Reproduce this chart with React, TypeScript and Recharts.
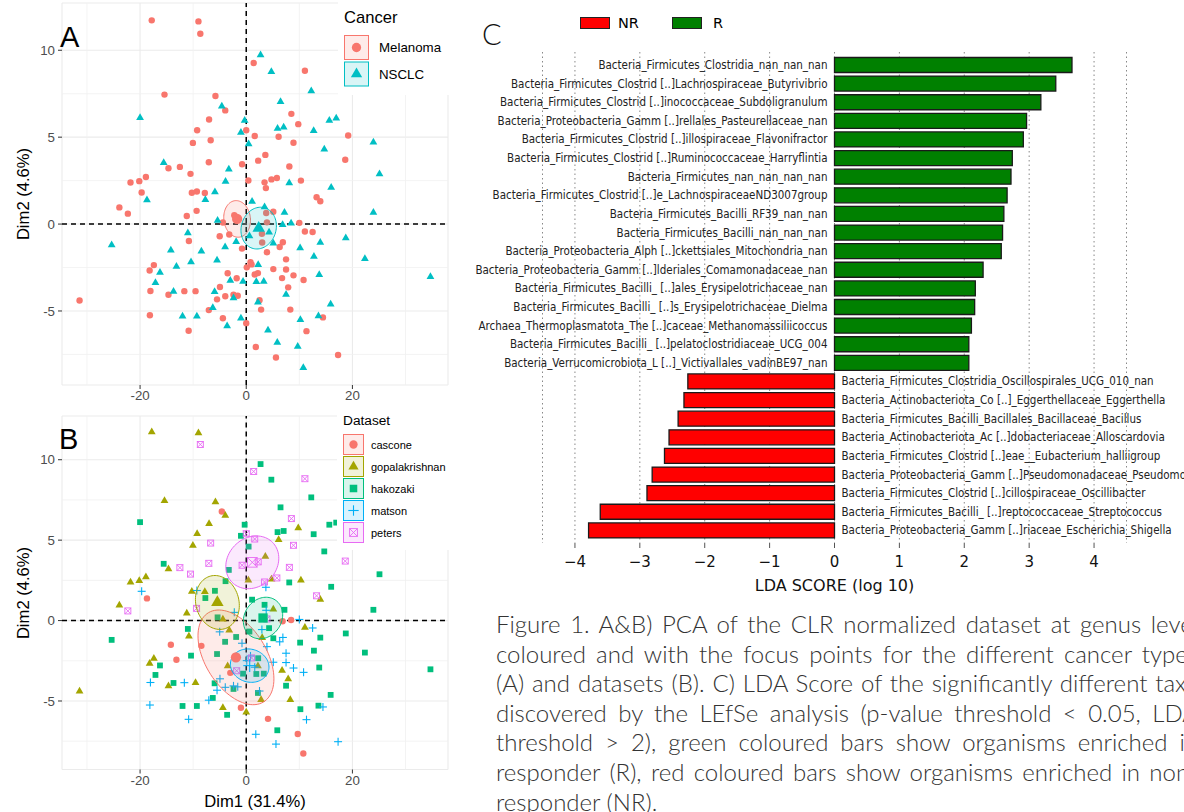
import React from 'react';
import {
  ComposedChart, Scatter, XAxis, YAxis, CartesianGrid, ReferenceLine,
  BarChart, Bar, Cell, LabelList,
} from 'recharts';

type Pt = [number, number];

// ---------- PCA data (Dim1, Dim2) per dataset ----------
const cascone: Pt[] = [
  [-4.6, 6.78], [-18.7, 1.38], [-14.2, -1.5], [-13.15, -2.44], [-8.45, -1.57], [-3.0, -3.25],
  [-1.0, -5.42], [4.1, -6.11], [9.7, -7.05], [10.75, -8.26], [6.85, -0.04], [8.45, 0.04],
];
const gopalakrishnan: Pt[] = [
  [-17.8, 11.72], [-9.0, 11.66], [-15.4, 7.45], [-5.8, 7.37], [-3.95, 6.54], [-7.0, 6.02],
  [-9.25, 5.4], [-10.05, 4.67], [-14.65, 3.21], [-18.9, 2.71], [-20.15, 2.47], [-21.8, 2.39],
  [-23.9, 0.96], [-10.25, 1.8], [-7.8, 1.79], [-11.2, 0.46], [0.4, 2.51], [3.6, 3.98],
  [6.1, 5.02], [9.8, 5.75], [10.3, 2.5], [4.75, 2.57], [13.95, 1.31], [5.1, 0.71],
  [11.05, -0.43], [-10.8, -0.97], [-17.4, -2.36], [-18.2, -2.67], [-31.4, -4.4], [-14.65, -4.07],
  [-9.55, -3.86], [-4.4, -5.42], [0, -5.7], [-4.4, 0.09], [-3.2, -0.6], [-3.5, -2.83],
  [2.2, -2.82], [6.75, -3.11], [7.9, -3.64], [2.8, -4.92], [8.3, -4.92], [3.0, -1.06],
];
const hakozaki: Pt[] = [
  [2.7, 9.73], [4.73, 8.76], [12.25, 7.66], [6.46, 7.04], [-20.0, 6.12], [-0.3, 5.96],
  [-1.0, 5.27], [0.45, 4.6], [5.9, 5.5], [7.05, 5.57], [12.7, 5.37], [15.65, 5.96],
  [16.95, 6.09], [14.7, 4.3], [23.95, 4.71], [-15.55, 3.53], [-3.28, 3.15], [-3.9, 2.45],
  [-5.9, 1.85], [-7.7, 1.4], [-5.4, 0.2], [1.1, 1.3], [3.45, 0.98], [7.2, 0.67],
  [8.1, 2.37], [16.0, 2.1], [25.1, 2.88], [23.95, 0.67], [4.3, -0.47], [0.6, -0.68],
  [5.1, -1.1], [18.75, -0.8], [10.15, -1.37], [13.95, -1.06], [12.75, -1.87], [22.35, -1.99],
  [34.7, -3.03], [13.75, -2.92], [2.25, -2.34], [1.9, -3.32], [3.3, -3.3], [7.5, -4.05],
  [15.9, -4.62], [10.2, -5.51], [13.6, -5.29], [5.85, -6.82], [2.2, -4.5], [-25.35, -1.2],
  [-11.0, -0.52], [-10.4, -2.18], [-3.98, -1.32], [-1.9, -1.02], [-5.5, -2.08], [-16.25, -2.79],
  [-17.1, -3.38], [-13.7, -3.88], [-5.96, -3.9], [-6.3, -4.81], [-2.4, -4.25], [-3.6, -5.86],
  [-12.0, -5.31], [-9.3, -5.31], [-0.6, -3.3],
];
const matson: Pt[] = [
  [-19.7, 1.82], [-9.3, 1.87], [3.7, 2.07], [-2.25, 0.51], [3.76, 0.64], [10.0, 0.07],
  [12.5, -0.46], [2.95, -0.56], [6.9, -1.05], [6.3, -1.32], [3.9, -1.62], [-0.8, -1.41],
  [7.5, -2.03], [5.1, -2.59], [7.5, -2.61], [8.9, -2.95], [10.8, -3.22], [0.1, -2.49],
  [2.5, -4.38], [14.45, -5.37], [11.35, -6.16], [1.8, -7.07], [5.6, -7.68], [17.3, -7.53],
  [-5.0, -0.7], [-18.05, -3.85], [-11.66, -3.86], [-18.15, -5.25], [-10.85, -6.14], [-7.05, -4.95],
  [-5.5, -4.33], [-4.95, -3.62], [-3.95, -4.15], [-2.4, -4.06], [-1.6, -4.12], [0.8, -2.2],
  [1.6, -2.9],
];
const peters: Pt[] = [
  [-8.65, 10.95], [1.4, 9.27], [11.05, 8.82], [8.5, 6.34], [-6.7, 4.82], [0, 5.4],
  [1.6, 5.07], [8.9, 4.68], [-7.05, 3.56], [-12.5, 3.29], [-10.5, 2.89], [-0.78, 3.44],
  [2.25, 3.65], [8.12, 3.31], [5.77, 2.65], [3.45, 2.4], [18.65, 3.7], [13.25, 1.54],
  [-22.3, 0.6], [-9.35, 0.76], [3.9, 0.1], [1.0, -2.32], [-1.8, -3.12], [19.2, 5.1],
];

const pcaXTicks = [-20, 0, 20];
const pcaYTicks = [-5, 0, 5, 10];
const pcaXMinor = [-30, -10, 10, 30];
const pcaYMinor = [-7.5, -2.5, 2.5, 7.5];

// ---------- LDA data ----------
const taxaR = [
  'Bacteria_Firmicutes_Clostridia_nan_nan_nan',
  'Bacteria_Firmicutes_Clostrid [..]Lachnospiraceae_Butyrivibrio',
  'Bacteria_Firmicutes_Clostrid [..]inococcaceae_Subdoligranulum',
  'Bacteria_Proteobacteria_Gamm [..]rellales_Pasteurellaceae_nan',
  'Bacteria_Firmicutes_Clostrid [..]illospiraceae_Flavonifractor',
  'Bacteria_Firmicutes_Clostrid [..]Ruminococcaceae_Harryflintia',
  'Bacteria_Firmicutes_nan_nan_nan_nan',
  'Bacteria_Firmicutes_Clostrid [..]e_LachnospiraceaeND3007group',
  'Bacteria_Firmicutes_Bacilli_RF39_nan_nan',
  'Bacteria_Firmicutes_Bacilli_nan_nan_nan',
  'Bacteria_Proteobacteria_Alph [..]ckettsiales_Mitochondria_nan',
  'Bacteria_Proteobacteria_Gamm [..]lderiales_Comamonadaceae_nan',
  'Bacteria_Firmicutes_Bacilli_ [..]ales_Erysipelotrichaceae_nan',
  'Bacteria_Firmicutes_Bacilli_ [..]s_Erysipelotrichaceae_Dielma',
  'Archaea_Thermoplasmatota_The [..]caceae_Methanomassiliicoccus',
  'Bacteria_Firmicutes_Bacilli_ [..]pelatoclostridiaceae_UCG_004',
  'Bacteria_Verrucomicrobiota_L [..]_Victivallales_vadinBE97_nan',
];
const ldaR = [3.66, 3.41, 3.18, 2.96, 2.91, 2.74, 2.72, 2.66, 2.61, 2.59, 2.57, 2.29, 2.17, 2.16, 2.11, 2.07, 2.07];
const taxaNR = [
  'Bacteria_Firmicutes_Clostridia_Oscillospirales_UCG_010_nan',
  'Bacteria_Actinobacteriota_Co [..]_Eggerthellaceae_Eggerthella',
  'Bacteria_Firmicutes_Bacilli_Bacillales_Bacillaceae_Bacillus',
  'Bacteria_Actinobacteriota_Ac [..]dobacteriaceae_Alloscardovia',
  'Bacteria_Firmicutes_Clostrid [..]eae__Eubacterium_halliigroup',
  'Bacteria_Proteobacteria_Gamm [..]Pseudomonadaceae_Pseudomonas',
  'Bacteria_Firmicutes_Clostrid [..]cillospiraceae_Oscillibacter',
  'Bacteria_Firmicutes_Bacilli_ [..]reptococcaceae_Streptococcus',
  'Bacteria_Proteobacteria_Gamm [..]riaceae_Escherichia_Shigella',
];
const ldaNR = [-2.26, -2.32, -2.41, -2.55, -2.62, -2.81, -2.89, -3.61, -3.79];
const ldaTicks = [-4, -3, -2, -1, 0, 1, 2, 3, 4];
const ldaDomain: [number, number] = [-4.5, 4.5];

const captionLines = [
  'Figure 1. A&B) PCA of the CLR normalized dataset at genus level',
  'coloured and with the focus points for the different cancer types',
  '(A) and datasets (B). C) LDA Score of the significantly different taxa',
  'discovered by the LEfSe analysis (p-value threshold < 0.05, LDA',
  'threshold > 2), green coloured bars show organisms enriched in',
  'responder (R), red coloured bars show organisms enriched in non-',
  'responder (NR).',
];

// ---------- helpers ----------
type Kind = 'circle' | 'triangle' | 'square' | 'plus' | 'boxx';
interface Group { name: string; color: string; kind: Kind; pts: Pt[] }

const cancerGroups: Group[] = [
  { name: 'Melanoma', color: '#F8766D', kind: 'circle', pts: [...gopalakrishnan, ...matson, ...peters] },
  { name: 'NSCLC', color: '#00BFC4', kind: 'triangle', pts: [...cascone, ...hakozaki] },
];
const datasetGroups: Group[] = [
  { name: 'cascone', color: '#F8766D', kind: 'circle', pts: cascone },
  { name: 'gopalakrishnan', color: '#A3A500', kind: 'triangle', pts: gopalakrishnan },
  { name: 'hakozaki', color: '#00BF7D', kind: 'square', pts: hakozaki },
  { name: 'matson', color: '#00B0F6', kind: 'plus', pts: matson },
  { name: 'peters', color: '#E76BF3', kind: 'boxx', pts: peters },
];

const ALL: Pt[] = [...cascone, ...gopalakrishnan, ...hakozaki, ...matson, ...peters];
function expand(vals: number[]): [number, number] {
  const lo = Math.min(...vals), hi = Math.max(...vals);
  const e = (hi - lo) * 0.05;
  return [lo - e, hi + e];
}
const pcaXDomain = expand(ALL.map(p => p[0]));
const pcaYDomain = expand(ALL.map(p => p[1]));

const rows = (pts: Pt[]) => pts.map(([x, y]) => ({ x, y }));
function centroid(pts: Pt[]) {
  const n = pts.length;
  return { x: pts.reduce((s, p) => s + p[0], 0) / n, y: pts.reduce((s, p) => s + p[1], 0) / n };
}
const CHI2_95_2DF = 5.991;
function confEllipse(pts: Pt[], steps = 90) {
  const n = pts.length;
  const c = centroid(pts);
  let sxx = 0, syy = 0, sxy = 0;
  pts.forEach(([x, y]) => {
    sxx += (x - c.x) ** 2; syy += (y - c.y) ** 2; sxy += (x - c.x) * (y - c.y);
  });
  const k = CHI2_95_2DF / (n * (n - 1));
  const a = sxx * k, b = sxy * k, d = syy * k;
  const l11 = Math.sqrt(a), l21 = b / l11, l22 = Math.sqrt(Math.max(d - l21 * l21, 0));
  const out: { x: number; y: number }[] = [];
  for (let i = 0; i < steps; i++) {
    const t = (2 * Math.PI * i) / steps;
    const u = Math.cos(t), v = Math.sin(t);
    out.push({ x: c.x + l11 * u, y: c.y + l21 * u + l22 * v });
  }
  return out;
}

function Marker({ kind, cx, cy, color, s = 1 }: { kind: Kind; cx: number; cy: number; color: string; s?: number }) {
  if (cx == null || cy == null || isNaN(cx) || isNaN(cy)) return <g />;
  switch (kind) {
    case 'circle':
      return <circle cx={cx} cy={cy} r={3.2 * s} fill={color} />;
    case 'triangle': {
      const r = 4.5 * s;
      return <polygon points={`${cx},${cy - r} ${cx + r * 0.866},${cy + r * 0.5} ${cx - r * 0.866},${cy + r * 0.5}`} fill={color} />;
    }
    case 'square': {
      const h = 2.9 * s;
      return <rect x={cx - h} y={cy - h} width={2 * h} height={2 * h} fill={color} />;
    }
    case 'plus': {
      const h = 4 * s;
      return (
        <g stroke={color} strokeWidth={1.1}>
          <line x1={cx - h} y1={cy} x2={cx + h} y2={cy} />
          <line x1={cx} y1={cy - h} x2={cx} y2={cy + h} />
        </g>
      );
    }
    case 'boxx': {
      const h = 3 * s;
      return (
        <g stroke={color} strokeWidth={0.9} fill="none">
          <rect x={cx - h} y={cy - h} width={2 * h} height={2 * h} />
          <line x1={cx - h} y1={cy - h} x2={cx + h} y2={cy + h} />
          <line x1={cx - h} y1={cy + h} x2={cx + h} y2={cy - h} />
        </g>
      );
    }
  }
  return <g />;
}

function EllipsePath({ points, color }: { points?: { x: number; y: number }[]; color: string }) {
  if (!points || !points.length) return <g />;
  const d = points.map((p, i) => (i ? 'L' : 'M') + p.x.toFixed(2) + ',' + p.y.toFixed(2)).join(' ') + ' Z';
  return <path d={d} fill={color} fillOpacity={0.15} stroke={color} strokeWidth={1} />;
}

const GG = "'Liberation Sans', Arial, Helvetica, sans-serif";
const CAPTION_FONT = "Lato, 'Open Sans', sans-serif";

function PcaPanel({ groups, top, height, marginTop, xAxisHeight, centroidScale }: {
  groups: Group[]; top: number; height: number; marginTop: number; xAxisHeight: number; centroidScale: number;
}) {
  return (
    <div style={{ position: 'absolute', left: 0, top, width: 460, height }}>
      <ComposedChart width={460} height={height} margin={{ top: marginTop, right: 12, bottom: 0, left: 0 }}>
        <CartesianGrid stroke="#EBEBEB" strokeWidth={1.1} />
        {pcaXMinor.map(v => <ReferenceLine key={'vx' + v} x={v} stroke="#F0F0F0" strokeWidth={0.8} />)}
        {pcaYMinor.map(v => <ReferenceLine key={'vy' + v} y={v} stroke="#F0F0F0" strokeWidth={0.8} />)}
        <XAxis type="number" dataKey="x" domain={pcaXDomain} ticks={pcaXTicks} allowDataOverflow
          axisLine={false} tickLine={{ stroke: '#333' }} tickSize={4} tickMargin={2} height={xAxisHeight}
          tick={{ fontSize: 13.3, fill: '#4D4D4D', fontFamily: GG }} />
        <YAxis type="number" dataKey="y" domain={pcaYDomain} ticks={pcaYTicks} allowDataOverflow
          axisLine={false} tickLine={{ stroke: '#333' }} tickSize={4} tickMargin={3} width={62}
          tick={{ fontSize: 13.3, fill: '#4D4D4D', fontFamily: GG }} />
        <ReferenceLine x={0} stroke="#000" strokeWidth={1.5} strokeDasharray="5 4" />
        <ReferenceLine y={0} stroke="#000" strokeWidth={1.5} strokeDasharray="5 4" />
        {groups.map(g => (
          <Scatter key={g.name} data={rows(g.pts)} isAnimationActive={false}
            shape={(p: any) => <Marker kind={g.kind} cx={p.cx} cy={p.cy} color={g.color} />} />
        ))}
        {groups.map(g => (
          <Scatter key={g.name + '-ell'} data={confEllipse(g.pts)} isAnimationActive={false}
            shape={() => <g />} lineType="joint"
            line={(lp: any) => <EllipsePath points={lp.points} color={g.color} />} />
        ))}
        {groups.map(g => (
          <Scatter key={g.name + '-mean'} data={[centroid(g.pts)]} isAnimationActive={false}
            shape={(p: any) => <Marker kind={g.kind} cx={p.cx} cy={p.cy} color={g.color} s={centroidScale} />} />
        ))}
      </ComposedChart>
    </div>
  );
}

function LegendBox({ title, groups, left, top, width, height, titleSize, textSize, key0, keySize, keyStep, keyScale, textX, titleY }: any) {
  return (
    <svg style={{ position: 'absolute', left, top }} width={width} height={height}>
      <rect x={0} y={0} width={width} height={height} fill="#fff" />
      <text x={6} y={titleY} fontSize={titleSize} fontFamily={GG} fill="#000">{title}</text>
      {groups.map((g: Group, i: number) => {
        const y = key0 + i * keyStep;
        return (
          <g key={g.name}>
            <rect x={6.5} y={y + 0.5} width={keySize - 1} height={keySize - 1} fill={g.color} fillOpacity={0.15} stroke={g.color} strokeWidth={1} />
            <Marker kind={g.kind} cx={6 + keySize / 2} cy={y + keySize / 2} color={g.color} s={keyScale} />
            <text x={textX} y={y + keySize / 2} dominantBaseline="central" fontSize={textSize} fontFamily={GG} fill="#000">{g.name}</text>
          </g>
        );
      })}
    </svg>
  );
}

const barRows = [
  ...taxaR.map((t, i) => ({ taxon: t, lda: ldaR[i] })),
  ...taxaNR.map((t, i) => ({ taxon: t, lda: ldaNR[i] })),
];

function BarLabel(props: any) {
  const { x, y, width, height, index } = props;
  const row = barRows[index];
  if (!row) return null;
  const pos = row.lda >= 0;
  const zero = pos ? Math.min(x, x + width) : Math.max(x, x + width);
  return (
    <text x={pos ? zero - 7 : zero + 7} y={y + height / 2} textAnchor={pos ? 'end' : 'start'} dominantBaseline="central"
      fontSize={11.5} fontFamily="'Liberation Sans Narrow', 'DejaVu Sans Condensed', sans-serif" fill="#222">
      {row.taxon}
    </text>
  );
}

function LdaPanel() {
  return (
    <div style={{ position: 'absolute', left: 460, top: 0, width: 724, height: 600 }}>
      <BarChart layout="vertical" width={724} height={600} data={barRows}
        margin={{ top: 47, right: 57.5, bottom: 0, left: 82.5 }} barSize={15}>
        <CartesianGrid xAxisId="b" horizontal={false} stroke="#888" strokeWidth={1} strokeDasharray="1.5 3" />
        <XAxis xAxisId="t" orientation="top" type="number" domain={ldaDomain} ticks={ldaTicks} height={5}
          tick={false} tickSize={5} axisLine={false} tickLine={{ stroke: '#555' }} />
        <XAxis xAxisId="b" orientation="bottom" type="number" domain={ldaDomain} ticks={ldaTicks} height={57}
          axisLine={false} tickLine={{ stroke: '#555' }} tickSize={5} tickMargin={8}
          tickFormatter={(v: number) => (v < 0 ? '\u2212' + Math.abs(v) : String(v))}
          tick={{ fontSize: 15, fill: '#111', fontFamily: "'DejaVu Sans', sans-serif" }} />
        <YAxis type="category" dataKey="taxon" hide padding={{ top: 3.5, bottom: 3.5 }} />
        <Bar xAxisId="b" dataKey="lda" isAnimationActive={false} stroke="#1a1a1a" strokeWidth={1.3}>
          {barRows.map((r, i) => <Cell key={i} fill={r.lda >= 0 ? '#008000' : '#FF0000'} />)}
          <LabelList dataKey="taxon" content={BarLabel} />
        </Bar>
      </BarChart>
    </div>
  );
}

export default function App() {
  return (
    <div style={{ position: 'absolute', left: 0, top: 0, width: 1184, height: 812, overflow: 'hidden', background: '#fff' }}>
      <PcaPanel groups={cancerGroups} top={0} height={410} marginTop={3} xAxisHeight={25} centroidScale={1.6} />
      <PcaPanel groups={datasetGroups} top={400} height={412} marginTop={16} xAxisHeight={42.5} centroidScale={1.6} />

      {/* axis titles and panel letters */}
      <svg style={{ position: 'absolute', left: 0, top: 0 }} width={460} height={812}>
        <text x={23} y={194} transform="rotate(-90 23 194)" textAnchor="middle" dominantBaseline="central" fontSize={16.6} fontFamily={GG}>Dim2 (4.6%)</text>
        <text x={23} y={593} transform="rotate(-90 23 593)" textAnchor="middle" dominantBaseline="central" fontSize={16.6} fontFamily={GG}>Dim2 (4.6%)</text>
        <text x={255} y={807} textAnchor="middle" fontSize={16.6} fontFamily={GG}>Dim1 (31.4%)</text>
        <text x={60} y={47} fontSize={29} fontFamily={GG}>A</text>
        <text x={59} y={449} fontSize={29} fontFamily={GG}>B</text>
      </svg>

      <LegendBox title="Cancer" groups={cancerGroups} left={338} top={0} width={122} height={95}
        titleSize={16.6} textSize={13.3} key0={35} keySize={25} keyStep={26.5} keyScale={1.45} textX={41} titleY={23} />
      <LegendBox title="Dataset" groups={datasetGroups} left={337} top={405} width={123} height={145}
        titleSize={13.7} textSize={11} key0={29} keySize={21} keyStep={22} keyScale={1.3} textX={34} titleY={20} />

      <LdaPanel />

      {/* LDA title, legend, letter */}
      <svg style={{ position: 'absolute', left: 460, top: 0 }} width={724} height={600}>
        <text x={22} y={45} fontSize={29} fontFamily={CAPTION_FONT} fontWeight={300} fill="#111">C</text>
        <rect x={120.5} y={17.5} width={29} height={11} fill="#FF0000" stroke="#222" strokeWidth={1} />
        <text x={158} y={23} dominantBaseline="central" fontSize={14.5} fontFamily="'DejaVu Sans', sans-serif">NR</text>
        <rect x={212.5} y={17.5} width={29} height={11} fill="#008000" stroke="#222" strokeWidth={1} />
        <text x={253} y={23} dominantBaseline="central" fontSize={14.5} fontFamily="'DejaVu Sans', sans-serif">R</text>
        <text x={374.5} y={591} textAnchor="middle" fontSize={16} fontFamily="'DejaVu Sans', sans-serif" fill="#111">LDA SCORE (log 10)</text>
      </svg>

      {captionLines.map((line, i) => (
        <div key={i} style={{
          position: 'absolute', left: 496, top: 609 + i * 29.6, width: 702, height: 29.6,
          fontFamily: CAPTION_FONT, fontWeight: 300, fontSize: 24, lineHeight: '29.6px', color: '#333',
          textAlign: 'justify', textAlignLast: i < captionLines.length - 1 ? 'justify' : 'left',
        } as React.CSSProperties}>{line}</div>
      ))}
    </div>
  );
}
